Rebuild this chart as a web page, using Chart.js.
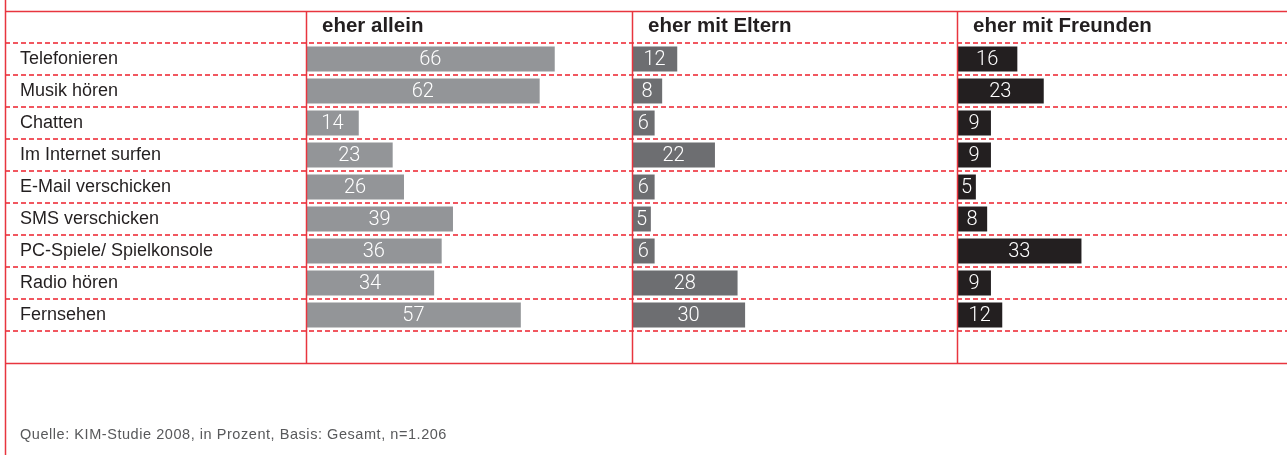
<!DOCTYPE html>
<html>
<head>
<meta charset="utf-8">
<script src="https://cdn.jsdelivr.net/npm/chart.js@4/dist/chart.umd.min.js"></script>
<style>
  html, body { margin: 0; padding: 0; background: #ffffff; }
  #wrap { position: relative; width: 1287px; height: 455px; overflow: hidden; }
  #c { position: absolute; left: 0; top: 0; }
  #src { position: absolute; left: 20px; top: 426px; font-family: "Liberation Sans", Arial, sans-serif; font-size: 14.5px; line-height: 17px; letter-spacing: 0.55px; color: #58595b; white-space: nowrap; }
</style>
</head>
<body>
<div id="wrap">
  <canvas id="c" width="1287" height="455"></canvas>
  <div id="src">Quelle: KIM-Studie 2008, in Prozent, Basis: Gesamt, n=1.206</div>
</div>
<script>
const categories = ["Telefonieren", "Musik hören", "Chatten", "Im Internet surfen", "E-Mail verschicken", "SMS verschicken", "PC-Spiele/ Spielkonsole", "Radio hören", "Fernsehen"];
const headers = ["eher allein", "eher mit Eltern", "eher mit Freunden"];
const allein  = [66, 62, 14, 23, 26, 39, 36, 34, 57];
const eltern  = [12, 8, 6, 22, 6, 5, 6, 28, 30];
const freunde = [16, 23, 9, 9, 5, 8, 33, 9, 12];

const RED = "#e8353f";
const DASH_RED = "#ee3a44";
const TEXT = "#231f20";

const framePlugin = {
  id: "frame",
  afterDraw(chart) {
    const ctx = chart.ctx;
    const y = chart.scales.y;
    const n = categories.length;
    const top = y.getPixelForValue(-1.5);
    const bottom = y.getPixelForValue(n - 1 + 1.5);
    const left = 5;
    const right = chart.width;
    ctx.save();
    // dashed row separators
    ctx.setLineDash([5, 3]);
    ctx.lineCap = "butt";
    for (let i = 0; i <= n; i++) {
      const py = Math.round(y.getPixelForValue(i - 0.5));
      ctx.strokeStyle = DASH_RED;
      ctx.lineWidth = 2;
      ctx.globalAlpha = 0.85;
      ctx.beginPath(); ctx.moveTo(left, py); ctx.lineTo(right, py); ctx.stroke();
    }
    ctx.globalAlpha = 1;
    ctx.setLineDash([]);
    ctx.strokeStyle = RED;
    ctx.lineWidth = 1.5;
    // solid top and bottom lines
    [top, bottom].forEach(v => {
      const py = Math.round(v) + 0.5;
      ctx.beginPath(); ctx.moveTo(left, py); ctx.lineTo(right, py); ctx.stroke();
    });
    // left border
    ctx.beginPath(); ctx.moveTo(left + 0.5, 0); ctx.lineTo(left + 0.5, chart.height); ctx.stroke();
    // column dividers + headers
    ["x1", "x2", "x3"].forEach((id, k) => {
      const s = chart.scales[id];
      const px = Math.round(s.left) + 0.5;
      ctx.strokeStyle = RED;
      ctx.lineWidth = 1.5;
      ctx.beginPath(); ctx.moveTo(px, top); ctx.lineTo(px, bottom); ctx.stroke();
      ctx.fillStyle = TEXT;
      ctx.font = "bold 20.5px 'Liberation Sans', Arial, sans-serif";
      ctx.textAlign = "left";
      ctx.textBaseline = "middle";
      ctx.fillText(headers[k], s.left + 16, y.getPixelForValue(-1) - 1);
    });
    ctx.restore();
  },
  afterDatasetsDraw(chart) {
    const ctx = chart.ctx;
    ctx.save();
    ctx.fillStyle = "#ffffff";
    ctx.font = "300 20px Roboto, 'Liberation Sans', sans-serif";
    ctx.textAlign = "center";
    ctx.textBaseline = "middle";
    chart.data.datasets.forEach((ds, i) => {
      const meta = chart.getDatasetMeta(i);
      meta.data.forEach((el, j) => {
        ctx.fillText(String(ds.data[j]), (el.x + el.base) / 2, el.y + 1);
      });
    });
    ctx.restore();
  }
};

function xAxis(order, width, max) {
  return {
    type: "linear", position: "top", stack: "cols", stackWeight: width, weight: order,
    min: 0, max: max,
    grid: { display: false }, border: { display: false },
    ticks: { display: false },
    afterFit(scale) { scale.height = 32; }
  };
}

new Chart(document.getElementById("c"), {
  type: "bar",
  data: {
    labels: categories,
    datasets: [
      { label: headers[0], data: allein,  xAxisID: "x1", backgroundColor: "#939598" },
      { label: headers[1], data: eltern,  xAxisID: "x2", backgroundColor: "#6d6e71" },
      { label: headers[2], data: freunde, xAxisID: "x3", backgroundColor: "#231f20" }
    ]
  },
  options: {
    indexAxis: "y",
    responsive: false,
    animation: false,
    devicePixelRatio: 1,
    layout: { padding: { left: 20, right: 0, top: 11, bottom: 124 } },
    datasets: { bar: { grouped: false, categoryPercentage: 1, barPercentage: 0.78 } },
    plugins: { legend: { display: false }, tooltip: { enabled: false }, title: { display: false } },
    scales: {
      y: {
        type: "category",
        grid: { display: false }, border: { display: false },
        ticks: { crossAlign: "far", color: TEXT, font: { family: "'Liberation Sans', Arial, sans-serif", size: 18 }, padding: 0 },
        afterFit(scale) { scale.width = 286; }
      },
      x3: xAxis(1, 330, 87.5),
      x2: xAxis(2, 325, 86.2),
      x1: xAxis(3, 326, 86.5)
    }
  },
  plugins: [framePlugin]
});
</script>
</body>
</html>
